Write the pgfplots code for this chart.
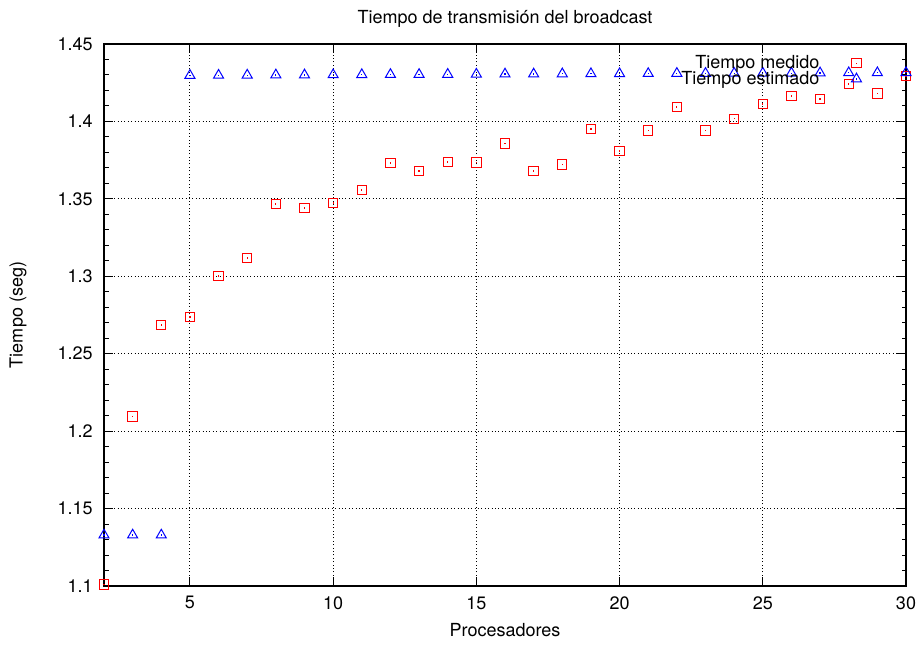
\documentclass[border=0pt]{standalone}
\usepackage{fontspec}
\setmainfont{TeX Gyre Heros}
\usepackage{pgfplots}
\pgfplotsset{compat=1.18}

\pgfdeclareplotmark{sqd}{%
  \pgfpathrectangle{\pgfpoint{-\pgfplotmarksize}{-\pgfplotmarksize}}{\pgfpoint{2\pgfplotmarksize}{2\pgfplotmarksize}}%
  \pgfusepathqstroke
  \pgfpathrectangle{\pgfpoint{-0.3pt}{-0.3pt}}{\pgfpoint{0.6pt}{0.6pt}}%
  \pgfusepathqfill}
\pgfdeclareplotmark{trid}{%
  \pgfpathmoveto{\pgfpoint{0pt}{\pgfplotmarksize}}%
  \pgfpathlineto{\pgfpointpolar{-30}{\pgfplotmarksize}}%
  \pgfpathlineto{\pgfpointpolar{-150}{\pgfplotmarksize}}%
  \pgfpathclose
  \pgfusepathqstroke
  \pgfpathrectangle{\pgfpoint{-0.3pt}{-0.3pt}}{\pgfpoint{0.6pt}{0.6pt}}%
  \pgfusepathqfill}

\pgfplotstableread{
x y
2 1.101
3 1.2095
4 1.2685
5 1.2737
6 1.3002
7 1.3118
8 1.3467
9 1.3441
10 1.3473
11 1.3557
12 1.3732
13 1.3680
14 1.3738
15 1.3735
16 1.3857
17 1.3680
18 1.3722
19 1.3951
20 1.3809
21 1.3942
22 1.4093
23 1.3942
24 1.4017
25 1.4113
26 1.4164
27 1.4145
28 1.4242
29 1.4180
30 1.4293
}\medido

\pgfplotstableread{
x y
2 1.1329
3 1.1329
4 1.1329
5 1.4297
6 1.4298
7 1.4299
8 1.4300
9 1.4300
10 1.4301
11 1.4302
12 1.4303
13 1.4303
14 1.4304
15 1.4305
16 1.4306
17 1.4306
18 1.4307
19 1.4308
20 1.4308
21 1.4309
22 1.4310
23 1.4310
24 1.4311
25 1.4312
26 1.4312
27 1.4313
28 1.4314
29 1.4314
30 1.4315
}\estimado

\begin{document}
\fontsize{9}{10.8}\selectfont
\begin{tikzpicture}
\path[use as bounding box] (0,0) rectangle (460pt,322pt);
\begin{axis}[
  at={(52pt,29pt)}, anchor=south west,
  scale only axis, width=401pt, height=271pt,
  xmin=2, xmax=30, ymin=1.1, ymax=1.45,
  xtick={5,10,15,20,25,30},
  xticklabels={5,10,15,20,25,30},
  ytick={1.1,1.15,1.2,1.25,1.3,1.35,1.4,1.45},
  yticklabels={1.1,1.15,1.2,1.25,1.3,1.35,1.4,1.45},
  minor y tick num=4,
  tick align=inside,
  major tick length=4.5pt, minor tick length=2.25pt,
  every tick/.style={black, line width=0.5pt},
  grid=major,
  major grid style={black, line width=0.45pt, dash pattern=on 0.5pt off 1.2pt},
  axis line style={black, line width=0.8pt},
  xticklabel style={yshift=-2pt},
  yticklabel style={xshift=-2.5pt},
  title={Tiempo de transmisión del broadcast},
  title style={at={(axis description cs:0.5,1.024)}, anchor=center, inner sep=0pt},
  xlabel={Procesadores},
  xlabel style={at={(axis description cs:0.5,-0.0812)}, anchor=center, inner sep=0pt},
  ylabel={Tiempo (seg)},
  ylabel style={at={(axis description cs:-0.1072,0.5)}, anchor=center, inner sep=0pt},
  clip=false,
  legend plot pos=right,
  legend cell align=right,
  legend image code/.code={\draw[#1] plot coordinates {(0pt,0pt)};},
  legend style={at={(axis description cs:0.945,0.980)}, anchor=north east,
    draw=none, fill=none, inner sep=0pt, row sep=0pt, column sep=16pt,
    nodes={inner sep=0pt}},
]
\addplot[only marks, color=red, mark=sqd, mark size=2.35pt, line width=0.5pt] table[x=x,y=y] {\medido};
\addlegendentry{Tiempo medido}
\addplot[only marks, color=blue, mark=trid, mark size=2.9pt, line width=0.5pt] table[x=x,y=y] {\estimado};
\addlegendentry{Tiempo estimado}
\end{axis}
\end{tikzpicture}
\end{document}
